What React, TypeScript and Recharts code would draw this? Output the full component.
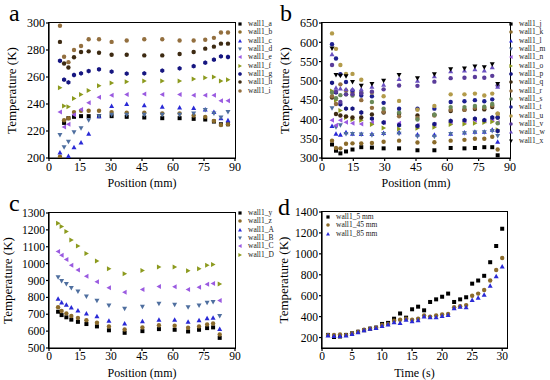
import React from 'react'
import { ScatterChart, Scatter, XAxis, YAxis, Legend } from 'recharts'

const FONT = '"Liberation Serif", "Times New Roman", serif'

// ---- panel a : wall1_a .. wall1_i
const posA = [5.3, 7.3, 9.4, 12.1, 15.5, 19.2, 24.2, 30.3, 37.6, 46.1, 54.8, 63.2, 70, 75.6, 79.8, 83.2, 86.6]
const wall1_a = [null, 226, 229.5, 230.5, 231, 231, 231, 231, 230.5, 230, 229.5, 229.5, 229, 228.5, 227, 225, 225]
const wall1_b = [201, 228, 229.5, 234, 235, 235, 235, 234, 233.5, 233.5, 233, 233, 231.5, 230.5, 227.5, 224.5, 225]
const wall1_c = [204, null, 201.5, 208, 211.5, 218, 231, 238.5, 240, 239, 238, 237.5, 237, 236, 234, 229.5, 228]
const wall1_d = [217, 208, 212, 219, 222, 228, 231, 232, 232, 232, 232, 232, 233, 235.5, 233, 230, 234]
const wall1_e = [234, 223, 225, 232, 236, 241, 245, 246.5, 247, 247.5, 247, 247, 246.5, 246.5, 246.5, 242.5, 242.5]
const wall1_f = [252, 238.5, 238, 244, 247, 250, 253.5, 255.5, 256.5, 257, 257, 257, 258.5, 259.5, 260, 257, 258]
const wall1_g = [272, 258, 256, 261.5, 262.7, 264.4, 265.7, 264, 262.5, 262.7, 264.7, 266.4, 268, 270.6, 272.8, 275.3, 274.8]
const wall1_h = [286, 270, 267, 274.6, 278.5, 279, 278, 276.5, 276.5, 276, 276, 277, 278.5, 281, 282.5, 284.7, 284.7]
const wall1_i = [298, 275, 271, 280, 283, 288, 288, 286, 287, 288, 288, 287, 287, 287.6, 289, 293, 293]

// ---- panel b : wall1_j .. wall1_x
const posB = [4.8, 6.7, 8.8, 11.5, 14.6, 18.8, 23.9, 29.5, 36.9, 45.7, 53.8, 61.6, 68.2, 73.2, 77.7, 81.5, 84.1]
const wall1_j = [335, 319, 312, 317, 322, 328, 327, 325, 325, 320, 320, 326, 325, 326, 328, 328, 307]
const wall1_k = [345, 326, 325, 337, 338, 338, 339, 342, 345, 340, 341, 345, 347, 350, 350, 355, 322]
const wall1_l = [383, 363, 360, 367, 363, 362, 362, 365, 367, 361, 360, 363, 366, 368, 368, 373, 342]
const wall1_m = [429, 380, 385, 362, 362, 361, 359, 362, 363, 356, 355, 362, 364, 366, 367, 370, 357]
const wall1_n = [398, 385, 398, 393, 390, 388, 392, 392, 390, 385, 387, 393, 395, 398, 396, 400, 392]
const wall1_o = [474, 450, 423, 405, 400, 398, 387, 378, 375, 377, 380, 387, 388, 390, 392, 394, 373]
const wall1_p = [495, 470, 439, 428, 428, 418, 402, 392, 385, 383, 388, 396, 398, 402, 398, 405, 370]
const wall1_q = [457, 414, 410, 408, 405, 405, 413, 418, 415, 410, 412, 422, 425, 427, 426, 432, 405]
const wall1_r = [460, 440, 491, 475, 470, 450, 430, 420, 408, 404, 410, 425, 425, 430, 430, 436, 415]
const wall1_s = [470, 455, 463, 465, 462, 470, 445, 428, 418, 400, 412, 432, 432, 435, 433, 440, 390]
const wall1_t = [595, 558, 517, 497, 475, 462, 460, 443, 428, 428, 428, 445, 447, 450, 447, 452, 405]
const wall1_u = [623, 583, 541, 518, 518, 503, 470, 460, 448, 425, 435, 465, 465, 467, 462, 467, 415]
const wall1_v = [541, 472, 445, 465, 465, 468, 472, 478, 488, 487, 498, 507, 508, 510, 508, 513, 488]
const wall1_w = [569, 482, 480, 478, 478, 478, 485, 490, 505, 500, 512, 525, 527, 530, 527, 535, 485]
const wall1_x = [584, 515, 513, 512, 497, 487, 492, 500, 515, 507, 517, 530, 532, 537, 535, 543, 492]

// ---- panel c : wall1_y .. wall1_D
const posC = [4.4, 6.1, 8.4, 10.8, 14.0, 18.1, 23.2, 29.0, 36.6, 45.2, 53.2, 60.8, 67.3, 72.6, 76.5, 79.4, 82.6]
const wall1_y = [715, 695, 682, 668, 655, 642, 628, 605, 590, 600, 612, 608, 598, 608, 618, 622, 560]
const wall1_z = [742, 720, 705, 690, 678, 665, 650, 628, 610, 622, 635, 632, 620, 628, 640, 645, 580]
const wall1_A = [792, 770, 757, 740, 722, 705, 688, 662, 645, 658, 668, 668, 655, 665, 677, 680, 612]
const wall1_B = [920, 897, 880, 855, 835, 805, 780, 752, 732, 745, 762, 757, 742, 752, 768, 772, 690]
const wall1_C = [1072, 1050, 1025, 990, 962, 925, 892, 857, 830, 847, 865, 863, 847, 860, 878, 882, 782]
const wall1_D = [1240, 1220, 1190, 1140, 1105, 1060, 1015, 970, 940, 960, 980, 980, 958, 970, 990, 995, 880]

// ---- panel d : time series
const timeD = [1, 2, 3, 4, 5, 6, 7, 8, 9, 10, 11, 12, 13, 14, 15, 16, 17, 18, 19, 20, 21, 22, 23, 24, 25, 26, 27, 28, 29, 30]
const wall1_5mm = [225, 205, 210, 225, 240, 255, 270, 285, 295, 330, 340, 380, 430, 390, 470, 495, 460, 540, 565, 590, 620, 540, 565, 585, 715, 745, 790, 920, 1075, 1240]
const wall1_45mm = [225, 225, 230, 225, 240, 255, 275, 285, 295, 320, 330, 360, 370, 380, 370, 380, 410, 400, 410, 420, 425, 490, 500, 510, 600, 620, 655, 745, 845, 960]
const wall1_85mm = [220, 215, 215, 220, 235, 250, 270, 285, 290, 310, 325, 345, 340, 370, 355, 365, 400, 395, 395, 405, 415, 480, 495, 490, 560, 580, 610, 695, 785, 880]

const posTicks = [0, 15, 30, 45, 60, 75, 90]

const BLACK = '#000000'
const BROWN = '#8b6b2b'
const BLUE = '#2a2ad6'
const STEEL = '#4f6f9f'
const PURPLE = '#9a5ae0'
const OLIVE = '#8c9a1e'
const NAVY = '#161680'
const DARKBROWN = '#3d2a12'
const TAN = '#936f3f'

type Kind = 'square' | 'circle' | 'up' | 'down' | 'left' | 'right' | 'hex'
type Series = { name: string; values: (number | null)[]; kind: Kind; color: string }

function Marker({ cx, cy, kind, color, s = 2 }: { cx: number; cy: number; kind: Kind; color: string; s?: number }) {
  const t = s * 1.25
  switch (kind) {
    case 'square':
      return <rect x={cx - s} y={cy - s} width={2 * s} height={2 * s} fill={color} />
    case 'circle':
      return <circle cx={cx} cy={cy} r={s + 0.2} fill={color} />
    case 'up':
      return <polygon points={`${cx},${cy - t} ${cx - t},${cy + s} ${cx + t},${cy + s}`} fill={color} />
    case 'down':
      return <polygon points={`${cx},${cy + t} ${cx - t},${cy - s} ${cx + t},${cy - s}`} fill={color} />
    case 'left':
      return <polygon points={`${cx - t},${cy} ${cx + s},${cy - t} ${cx + s},${cy + t}`} fill={color} />
    case 'right':
      return <polygon points={`${cx + t},${cy} ${cx - s},${cy - t} ${cx - s},${cy + t}`} fill={color} />
    default: {
      const pts = [0, 1, 2, 3, 4, 5]
        .map((k) => {
          const a = (Math.PI / 3) * k + Math.PI / 6
          return `${cx + (s + 0.4) * Math.cos(a)},${cy + (s + 0.4) * Math.sin(a)}`
        })
        .join(' ')
      return <polygon points={pts} fill={color} />
    }
  }
}

const seriesA: Series[] = [
  { name: 'wall1_a', values: wall1_a, kind: 'square', color: BLACK },
  { name: 'wall1_b', values: wall1_b, kind: 'circle', color: BROWN },
  { name: 'wall1_c', values: wall1_c, kind: 'up', color: BLUE },
  { name: 'wall1_d', values: wall1_d, kind: 'down', color: STEEL },
  { name: 'wall1_e', values: wall1_e, kind: 'left', color: PURPLE },
  { name: 'wall1_f', values: wall1_f, kind: 'right', color: OLIVE },
  { name: 'wall1_g', values: wall1_g, kind: 'hex', color: NAVY },
  { name: 'wall1_h', values: wall1_h, kind: 'circle', color: DARKBROWN },
  { name: 'wall1_i', values: wall1_i, kind: 'circle', color: TAN },
]

const seriesB: Series[] = [
  { name: 'wall1_j', values: wall1_j, kind: 'square', color: BLACK },
  { name: 'wall1_k', values: wall1_k, kind: 'circle', color: BROWN },
  { name: 'wall1_l', values: wall1_l, kind: 'up', color: BLUE },
  { name: 'wall1_m', values: wall1_m, kind: 'down', color: STEEL },
  { name: 'wall1_n', values: wall1_n, kind: 'left', color: PURPLE },
  { name: 'wall1_o', values: wall1_o, kind: 'right', color: OLIVE },
  { name: 'wall1_p', values: wall1_p, kind: 'hex', color: NAVY },
  { name: 'wall1_q', values: wall1_q, kind: 'circle', color: DARKBROWN },
  { name: 'wall1_r', values: wall1_r, kind: 'circle', color: TAN },
  { name: 'wall1_s', values: wall1_s, kind: 'circle', color: '#6a8a58' },
  { name: 'wall1_t', values: wall1_t, kind: 'circle', color: '#1e2090' },
  { name: 'wall1_u', values: wall1_u, kind: 'circle', color: '#b39b4a' },
  { name: 'wall1_v', values: wall1_v, kind: 'circle', color: '#5a3c9a' },
  { name: 'wall1_w', values: wall1_w, kind: 'up', color: '#6a50c0' },
  { name: 'wall1_x', values: wall1_x, kind: 'down', color: BLACK },
]

const seriesC: Series[] = [
  { name: 'wall1_y', values: wall1_y, kind: 'square', color: BLACK },
  { name: 'wall1_z', values: wall1_z, kind: 'circle', color: BROWN },
  { name: 'wall1_A', values: wall1_A, kind: 'up', color: BLUE },
  { name: 'wall1_B', values: wall1_B, kind: 'down', color: STEEL },
  { name: 'wall1_C', values: wall1_C, kind: 'left', color: PURPLE },
  { name: 'wall1_D', values: wall1_D, kind: 'right', color: OLIVE },
]

const seriesD: Series[] = [
  { name: 'wall1_5 mm', values: wall1_5mm, kind: 'square', color: BLACK },
  { name: 'wall1_45 mm', values: wall1_45mm, kind: 'circle', color: BROWN },
  { name: 'wall1_85 mm', values: wall1_85mm, kind: 'up', color: BLUE },
]

function LegendBox({ series }: { series: Series[] }) {
  return (
    <div style={{ fontFamily: FONT, fontSize: 7.5, color: '#222', lineHeight: '8.33px' }}>
      {series.map((s) => (
        <div key={s.name} style={{ display: 'flex', alignItems: 'center', height: 8.33, whiteSpace: 'nowrap' }}>
          <svg width={6} height={6} style={{ marginRight: 5 }}>
            <Marker cx={3} cy={3} kind={s.kind} color={s.color} s={1.6} />
          </svg>
          <span>{s.name}</span>
        </div>
      ))}
    </div>
  )
}

type PanelProps = {
  letter: string
  letterPos: { left: number; top: number }
  left: number
  top: number
  pos: number[]
  series: Series[]
  xDomain: [number, number]
  xTicks: number[]
  yDomain: [number, number]
  yTicks: number[]
  xLabel: string
  margin: { top: number; right: number; bottom: number; left: number }
  yWidth: number
  legendPos: { left: number; top: number }
  tickSize?: number
  yLabelOffset?: number
}

const W = 275
const H = 190
const XH = 30

function Panel(p: PanelProps) {
  const fs = p.tickSize ?? 12
  const plotLeft = p.margin.left + p.yWidth
  const plotTop = p.margin.top
  const plotRight = W - p.margin.right
  const plotBottom = H - p.margin.bottom - XH
  return (
    <div style={{ position: 'absolute', left: p.left, top: p.top, width: W, height: H, fontFamily: FONT }}>
      {/* full plot frame box, sits under the chart svg */}
      <div
        style={{
          position: 'absolute',
          left: plotLeft - 1,
          top: plotTop - 1,
          width: plotRight - plotLeft + 2,
          height: plotBottom - plotTop + 2,
          boxSizing: 'border-box',
          border: '1px solid #000',
        }}
      />
      <ScatterChart width={W} height={H} margin={p.margin}>
        <XAxis
          type="number"
          dataKey="x"
          domain={p.xDomain}
          ticks={p.xTicks}
          interval={0}
          allowDataOverflow
          height={XH}
          stroke="#000"
          strokeWidth={1.2}
          tickSize={3}
          tickMargin={1}
          tick={{ fontSize: fs, fill: '#000', fontFamily: FONT }}
          label={{ value: p.xLabel, position: 'insideBottom', offset: 1, fontSize: 12, fill: '#000', fontFamily: FONT }}
        />
        <YAxis
          type="number"
          dataKey="y"
          domain={p.yDomain}
          ticks={p.yTicks}
          interval={0}
          allowDataOverflow
          width={p.yWidth}
          stroke="#000"
          strokeWidth={1.2}
          tickSize={3}
          tickMargin={1}
          tick={{ fontSize: fs, fill: '#000', fontFamily: FONT }}
          label={{
            value: 'Temperature (K)',
            angle: -90,
            position: 'insideLeft',
            offset: p.yLabelOffset ?? 2,
            fontSize: 13,
            fill: '#000',
            fontFamily: FONT,
            style: { textAnchor: 'middle' },
          }}
        />
        {p.series.map((s) => (
          <Scatter
            key={s.name}
            name={s.name}
            data={s.values
              .map((v, i) => (v == null ? null : { x: p.pos[i], y: v }))
              .filter((d): d is { x: number; y: number } => d !== null)}
            fill={s.color}
            isAnimationActive={false}
            shape={(props: any) => <Marker cx={props.cx} cy={props.cy} kind={s.kind} color={s.color} />}
          />
        ))}
        <Legend
          layout="vertical"
          align="center"
          verticalAlign="middle"
          wrapperStyle={{ left: p.legendPos.left, top: p.legendPos.top, width: 60, height: 'auto' }}
          content={() => <LegendBox series={p.series} />}
        />
      </ScatterChart>
      <div
        style={{
          position: 'absolute',
          left: p.letterPos.left,
          top: p.letterPos.top,
          fontSize: 24,
          lineHeight: '24px',
          height: 24,
          fontFamily: FONT,
          color: '#000',
          zIndex: 6,
        }}
      >
        {p.letter}
      </div>
    </div>
  )
}

export default function App() {
  return (
    <div style={{ position: 'absolute', left: 0, top: 0, width: 550, height: 380, background: '#fff', overflow: 'hidden' }}>
      <Panel
        letter="a"
        letterPos={{ left: 9, top: 1 }}
        left={0}
        top={0}
        pos={posA}
        series={seriesA}
        xDomain={[0, 90]}
        xTicks={posTicks}
        yDomain={[200, 300]}
        yTicks={[200, 220, 240, 260, 280, 300]}
        xLabel="Position (mm)"
        margin={{ top: 23, right: 40, bottom: 2, left: 9 }}
        yWidth={40}
        legendPos={{ left: 237, top: 20 }}
      />
      <Panel
        letter="b"
        letterPos={{ left: 5, top: 1 }}
        left={275}
        top={0}
        pos={posB}
        series={seriesB}
        xDomain={[0, 90]}
        xTicks={posTicks}
        yDomain={[300, 650]}
        yTicks={[300, 350, 400, 450, 500, 550, 600, 650]}
        xLabel="Position (mm)"
        margin={{ top: 23, right: 40, bottom: 2, left: 7 }}
        yWidth={40}
        legendPos={{ left: 233, top: 20 }}
      />
      <Panel
        letter="c"
        letterPos={{ left: 9, top: 1 }}
        left={0}
        top={190}
        pos={posC}
        series={seriesC}
        xDomain={[0, 90]}
        xTicks={posTicks}
        yDomain={[500, 1300]}
        yTicks={[500, 600, 700, 800, 900, 1000, 1100, 1200, 1300]}
        xLabel="Position (mm)"
        margin={{ top: 23, right: 40, bottom: 2, left: 5 }}
        yWidth={44}
        legendPos={{ left: 237, top: 19 }}
        tickSize={11.5}
      />
      <Panel
        letter="d"
        letterPos={{ left: 3, top: 5 }}
        left={275}
        top={190}
        pos={timeD}
        series={seriesD}
        xDomain={[0, 30.8]}
        xTicks={[0, 5, 10, 15, 20, 25, 30]}
        yDomain={[100, 1400]}
        yTicks={[200, 400, 600, 800, 1000, 1200, 1400]}
        xLabel="Time (s)"
        margin={{ top: 22, right: 43, bottom: 2, left: 5 }}
        yWidth={42}
        legendPos={{ left: 50, top: 23 }}
        tickSize={11.5}
        yLabelOffset={3}
      />
    </div>
  )
}
